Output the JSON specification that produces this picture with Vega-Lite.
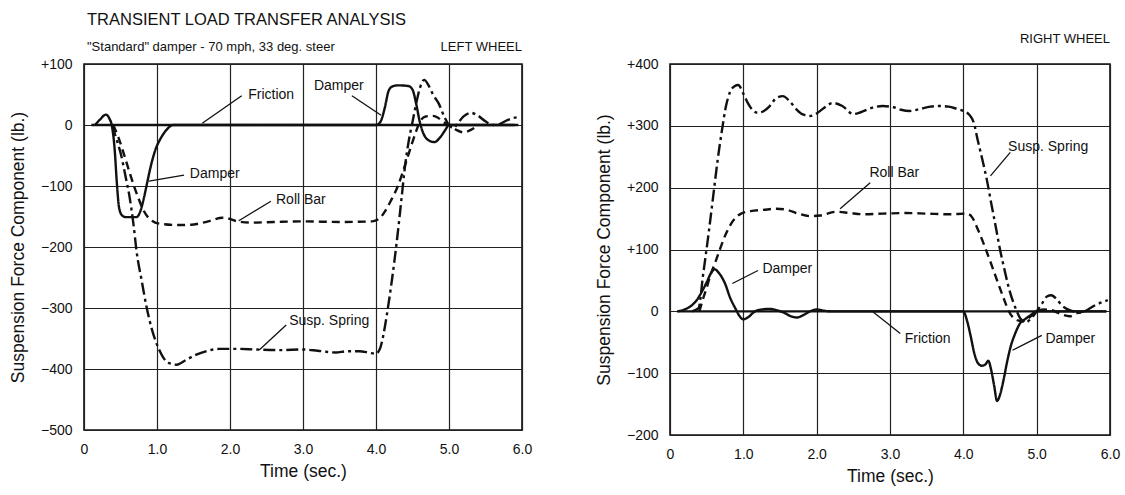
{
  "$schema": "https://vega.github.io/schema/vega-lite/v6.json",
  "background": "white",
  "padding": {"left": 8, "top": 11, "right": 8, "bottom": 2},
  "spacing": 61,
  "config": {
    "font": "Liberation Sans",
    "view": {"stroke": "#111", "strokeWidth": 1.6},
    "axis": {"grid": true, "gridColor": "#222", "gridWidth": 1.2, "gridOpacity": 1, "domain": false, "ticks": false, "labelFontSize": 14, "labelColor": "#111", "titleFontSize": 17.5, "titleFontWeight": "normal", "titleColor": "#111", "labelFlush": false, "labelOverlap": false},
    "axisX": {"labelPadding": 12, "titlePadding": 6},
    "axisY": {"labelPadding": 12, "titlePadding": 13},
    "text": {"font": "Liberation Sans", "color": "#111"}
  },
  "datasets": {
    "leftLines": [
      {"s": "Friction", "t": 0.1, "v": 0}, {"s": "Friction", "t": 5.95, "v": 0},
      {"s": "Damper", "t": 0.15, "v": 0}, {"s": "Damper", "t": 0.22, "v": 9}, {"s": "Damper", "t": 0.3, "v": 17}, {"s": "Damper", "t": 0.35, "v": 10}, {"s": "Damper", "t": 0.38, "v": 0},
      {"s": "Damper", "t": 0.42, "v": -40}, {"s": "Damper", "t": 0.45, "v": -95}, {"s": "Damper", "t": 0.48, "v": -135}, {"s": "Damper", "t": 0.52, "v": -148}, {"s": "Damper", "t": 0.57, "v": -151},
      {"s": "Damper", "t": 0.72, "v": -151}, {"s": "Damper", "t": 0.77, "v": -142}, {"s": "Damper", "t": 0.82, "v": -120}, {"s": "Damper", "t": 0.87, "v": -92}, {"s": "Damper", "t": 0.92, "v": -65},
      {"s": "Damper", "t": 0.98, "v": -40}, {"s": "Damper", "t": 1.05, "v": -22}, {"s": "Damper", "t": 1.13, "v": -8}, {"s": "Damper", "t": 1.22, "v": 0}, {"s": "Damper", "t": 4.0, "v": 0},
      {"s": "Damper", "t": 4.06, "v": 5}, {"s": "Damper", "t": 4.12, "v": 28}, {"s": "Damper", "t": 4.17, "v": 55}, {"s": "Damper", "t": 4.22, "v": 63}, {"s": "Damper", "t": 4.3, "v": 65},
      {"s": "Damper", "t": 4.44, "v": 64}, {"s": "Damper", "t": 4.5, "v": 58}, {"s": "Damper", "t": 4.55, "v": 35}, {"s": "Damper", "t": 4.6, "v": 5}, {"s": "Damper", "t": 4.65, "v": -14},
      {"s": "Damper", "t": 4.72, "v": -25}, {"s": "Damper", "t": 4.8, "v": -28}, {"s": "Damper", "t": 4.88, "v": -20}, {"s": "Damper", "t": 4.95, "v": -8}, {"s": "Damper", "t": 5.0, "v": 0}, {"s": "Damper", "t": 5.9, "v": 0},
      {"s": "Roll Bar", "t": 0.4, "v": 0}, {"s": "Roll Bar", "t": 0.47, "v": -20}, {"s": "Roll Bar", "t": 0.55, "v": -49}, {"s": "Roll Bar", "t": 0.63, "v": -80}, {"s": "Roll Bar", "t": 0.73, "v": -115},
      {"s": "Roll Bar", "t": 0.82, "v": -141}, {"s": "Roll Bar", "t": 0.93, "v": -157}, {"s": "Roll Bar", "t": 1.05, "v": -162}, {"s": "Roll Bar", "t": 1.3, "v": -164}, {"s": "Roll Bar", "t": 1.5, "v": -163},
      {"s": "Roll Bar", "t": 1.7, "v": -158}, {"s": "Roll Bar", "t": 1.9, "v": -152}, {"s": "Roll Bar", "t": 2.0, "v": -154}, {"s": "Roll Bar", "t": 2.1, "v": -158}, {"s": "Roll Bar", "t": 2.3, "v": -160},
      {"s": "Roll Bar", "t": 2.6, "v": -159}, {"s": "Roll Bar", "t": 3.0, "v": -158}, {"s": "Roll Bar", "t": 3.5, "v": -159}, {"s": "Roll Bar", "t": 3.95, "v": -158}, {"s": "Roll Bar", "t": 4.05, "v": -153},
      {"s": "Roll Bar", "t": 4.12, "v": -142}, {"s": "Roll Bar", "t": 4.2, "v": -125}, {"s": "Roll Bar", "t": 4.3, "v": -100}, {"s": "Roll Bar", "t": 4.4, "v": -65}, {"s": "Roll Bar", "t": 4.48, "v": -35},
      {"s": "Roll Bar", "t": 4.55, "v": -10}, {"s": "Roll Bar", "t": 4.6, "v": 5}, {"s": "Roll Bar", "t": 4.68, "v": 14}, {"s": "Roll Bar", "t": 4.78, "v": 15}, {"s": "Roll Bar", "t": 4.85, "v": 12},
      {"s": "Roll Bar", "t": 4.92, "v": 5}, {"s": "Roll Bar", "t": 5.0, "v": 0}, {"s": "Roll Bar", "t": 5.1, "v": -8}, {"s": "Roll Bar", "t": 5.2, "v": -12}, {"s": "Roll Bar", "t": 5.3, "v": -8}, {"s": "Roll Bar", "t": 5.4, "v": 0},
      {"s": "Susp. Spring", "t": 0.38, "v": 0}, {"s": "Susp. Spring", "t": 0.45, "v": -25}, {"s": "Susp. Spring", "t": 0.51, "v": -50}, {"s": "Susp. Spring", "t": 0.57, "v": -85}, {"s": "Susp. Spring", "t": 0.62, "v": -115},
      {"s": "Susp. Spring", "t": 0.68, "v": -165}, {"s": "Susp. Spring", "t": 0.72, "v": -207}, {"s": "Susp. Spring", "t": 0.79, "v": -255}, {"s": "Susp. Spring", "t": 0.86, "v": -300}, {"s": "Susp. Spring", "t": 0.93, "v": -335},
      {"s": "Susp. Spring", "t": 1.0, "v": -360}, {"s": "Susp. Spring", "t": 1.08, "v": -380}, {"s": "Susp. Spring", "t": 1.16, "v": -390}, {"s": "Susp. Spring", "t": 1.27, "v": -393}, {"s": "Susp. Spring", "t": 1.4, "v": -385},
      {"s": "Susp. Spring", "t": 1.53, "v": -377}, {"s": "Susp. Spring", "t": 1.7, "v": -370}, {"s": "Susp. Spring", "t": 1.85, "v": -367}, {"s": "Susp. Spring", "t": 2.1, "v": -367}, {"s": "Susp. Spring", "t": 2.35, "v": -368},
      {"s": "Susp. Spring", "t": 2.7, "v": -369}, {"s": "Susp. Spring", "t": 3.0, "v": -368}, {"s": "Susp. Spring", "t": 3.2, "v": -370}, {"s": "Susp. Spring", "t": 3.45, "v": -373}, {"s": "Susp. Spring", "t": 3.6, "v": -371},
      {"s": "Susp. Spring", "t": 3.77, "v": -371}, {"s": "Susp. Spring", "t": 3.9, "v": -373}, {"s": "Susp. Spring", "t": 4.0, "v": -375}, {"s": "Susp. Spring", "t": 4.06, "v": -365}, {"s": "Susp. Spring", "t": 4.1, "v": -345},
      {"s": "Susp. Spring", "t": 4.15, "v": -310}, {"s": "Susp. Spring", "t": 4.2, "v": -270}, {"s": "Susp. Spring", "t": 4.25, "v": -225}, {"s": "Susp. Spring", "t": 4.3, "v": -175}, {"s": "Susp. Spring", "t": 4.35, "v": -120},
      {"s": "Susp. Spring", "t": 4.4, "v": -65}, {"s": "Susp. Spring", "t": 4.45, "v": -25}, {"s": "Susp. Spring", "t": 4.5, "v": 5}, {"s": "Susp. Spring", "t": 4.55, "v": 35}, {"s": "Susp. Spring", "t": 4.6, "v": 60},
      {"s": "Susp. Spring", "t": 4.66, "v": 74}, {"s": "Susp. Spring", "t": 4.72, "v": 65}, {"s": "Susp. Spring", "t": 4.78, "v": 50}, {"s": "Susp. Spring", "t": 4.86, "v": 35}, {"s": "Susp. Spring", "t": 4.93, "v": 15},
      {"s": "Susp. Spring", "t": 5.0, "v": 0}, {"s": "Susp. Spring", "t": 5.06, "v": -5}, {"s": "Susp. Spring", "t": 5.12, "v": 3}, {"s": "Susp. Spring", "t": 5.2, "v": 14}, {"s": "Susp. Spring", "t": 5.3, "v": 20},
      {"s": "Susp. Spring", "t": 5.4, "v": 15}, {"s": "Susp. Spring", "t": 5.5, "v": 6}, {"s": "Susp. Spring", "t": 5.6, "v": 0}, {"s": "Susp. Spring", "t": 5.7, "v": 2}, {"s": "Susp. Spring", "t": 5.8, "v": 8},
      {"s": "Susp. Spring", "t": 5.9, "v": 12}, {"s": "Susp. Spring", "t": 5.98, "v": 13}
    ],
    "leftLabels": [
      {"label": "Friction", "t": 2.25, "v": 49},
      {"label": "Damper", "t": 3.15, "v": 64},
      {"label": "Damper", "t": 1.45, "v": -80},
      {"label": "Roll Bar", "t": 2.63, "v": -123},
      {"label": "Susp. Spring", "t": 2.81, "v": -321}
    ],
    "leftLeaders": [
      {"t": 2.16, "v": 48, "t2": 1.62, "v2": 3},
      {"t": 3.67, "v": 48, "t2": 4.07, "v2": 16},
      {"t": 1.37, "v": -82, "t2": 0.89, "v2": -92},
      {"t": 2.56, "v": -125, "t2": 2.12, "v2": -157},
      {"t": 2.77, "v": -328, "t2": 2.4, "v2": -369}
    ],
    "leftWheel": [{"label": "LEFT WHEEL", "t": 6.0, "v": 128}],
    "rightLines": [
      {"s": "Friction", "t": 0.1, "v": 0}, {"s": "Friction", "t": 5.95, "v": 0},
      {"s": "Damper", "t": 0.1, "v": 0}, {"s": "Damper", "t": 0.2, "v": 3}, {"s": "Damper", "t": 0.3, "v": 10}, {"s": "Damper", "t": 0.37, "v": 19}, {"s": "Damper", "t": 0.44, "v": 33},
      {"s": "Damper", "t": 0.5, "v": 47}, {"s": "Damper", "t": 0.56, "v": 62}, {"s": "Damper", "t": 0.61, "v": 68}, {"s": "Damper", "t": 0.66, "v": 63}, {"s": "Damper", "t": 0.75, "v": 45},
      {"s": "Damper", "t": 0.82, "v": 22}, {"s": "Damper", "t": 0.89, "v": 5}, {"s": "Damper", "t": 0.95, "v": -8}, {"s": "Damper", "t": 1.0, "v": -13}, {"s": "Damper", "t": 1.06, "v": -10},
      {"s": "Damper", "t": 1.16, "v": 0}, {"s": "Damper", "t": 1.25, "v": 3}, {"s": "Damper", "t": 1.35, "v": 4}, {"s": "Damper", "t": 1.45, "v": 2}, {"s": "Damper", "t": 1.55, "v": -2},
      {"s": "Damper", "t": 1.65, "v": -8}, {"s": "Damper", "t": 1.73, "v": -10}, {"s": "Damper", "t": 1.82, "v": -6}, {"s": "Damper", "t": 1.91, "v": 0}, {"s": "Damper", "t": 2.0, "v": 3},
      {"s": "Damper", "t": 2.1, "v": 1}, {"s": "Damper", "t": 2.2, "v": 0}, {"s": "Damper", "t": 4.0, "v": 0}, {"s": "Damper", "t": 4.05, "v": -15}, {"s": "Damper", "t": 4.1, "v": -40},
      {"s": "Damper", "t": 4.15, "v": -68}, {"s": "Damper", "t": 4.2, "v": -84}, {"s": "Damper", "t": 4.25, "v": -88}, {"s": "Damper", "t": 4.3, "v": -86}, {"s": "Damper", "t": 4.34, "v": -80},
      {"s": "Damper", "t": 4.38, "v": -95}, {"s": "Damper", "t": 4.42, "v": -120}, {"s": "Damper", "t": 4.46, "v": -145}, {"s": "Damper", "t": 4.5, "v": -135}, {"s": "Damper", "t": 4.55, "v": -110},
      {"s": "Damper", "t": 4.6, "v": -80}, {"s": "Damper", "t": 4.65, "v": -55}, {"s": "Damper", "t": 4.7, "v": -38}, {"s": "Damper", "t": 4.77, "v": -20}, {"s": "Damper", "t": 4.85, "v": -12},
      {"s": "Damper", "t": 4.92, "v": -6}, {"s": "Damper", "t": 5.0, "v": 0}, {"s": "Damper", "t": 5.95, "v": 0},
      {"s": "Roll Bar", "t": 0.4, "v": 0}, {"s": "Roll Bar", "t": 0.45, "v": 20}, {"s": "Roll Bar", "t": 0.5, "v": 38}, {"s": "Roll Bar", "t": 0.55, "v": 58}, {"s": "Roll Bar", "t": 0.62, "v": 80},
      {"s": "Roll Bar", "t": 0.68, "v": 100}, {"s": "Roll Bar", "t": 0.75, "v": 122}, {"s": "Roll Bar", "t": 0.82, "v": 139}, {"s": "Roll Bar", "t": 0.9, "v": 152}, {"s": "Roll Bar", "t": 0.97, "v": 158},
      {"s": "Roll Bar", "t": 1.1, "v": 162}, {"s": "Roll Bar", "t": 1.27, "v": 164}, {"s": "Roll Bar", "t": 1.45, "v": 166}, {"s": "Roll Bar", "t": 1.6, "v": 164}, {"s": "Roll Bar", "t": 1.75, "v": 158},
      {"s": "Roll Bar", "t": 1.91, "v": 154}, {"s": "Roll Bar", "t": 2.05, "v": 155}, {"s": "Roll Bar", "t": 2.27, "v": 161}, {"s": "Roll Bar", "t": 2.45, "v": 159}, {"s": "Roll Bar", "t": 2.63, "v": 157},
      {"s": "Roll Bar", "t": 2.9, "v": 158}, {"s": "Roll Bar", "t": 3.2, "v": 159}, {"s": "Roll Bar", "t": 3.5, "v": 158}, {"s": "Roll Bar", "t": 3.8, "v": 157}, {"s": "Roll Bar", "t": 4.05, "v": 158},
      {"s": "Roll Bar", "t": 4.12, "v": 152}, {"s": "Roll Bar", "t": 4.2, "v": 132}, {"s": "Roll Bar", "t": 4.32, "v": 96}, {"s": "Roll Bar", "t": 4.4, "v": 70}, {"s": "Roll Bar", "t": 4.5, "v": 37},
      {"s": "Roll Bar", "t": 4.56, "v": 18}, {"s": "Roll Bar", "t": 4.62, "v": 0}, {"s": "Roll Bar", "t": 4.7, "v": -12}, {"s": "Roll Bar", "t": 4.8, "v": -16}, {"s": "Roll Bar", "t": 4.9, "v": -10},
      {"s": "Roll Bar", "t": 5.0, "v": 0}, {"s": "Roll Bar", "t": 5.1, "v": 3}, {"s": "Roll Bar", "t": 5.2, "v": 2}, {"s": "Roll Bar", "t": 5.3, "v": -3}, {"s": "Roll Bar", "t": 5.45, "v": -8},
      {"s": "Roll Bar", "t": 5.55, "v": -3}, {"s": "Roll Bar", "t": 5.65, "v": 0},
      {"s": "Susp. Spring", "t": 0.3, "v": 0}, {"s": "Susp. Spring", "t": 0.39, "v": 5}, {"s": "Susp. Spring", "t": 0.45, "v": 58}, {"s": "Susp. Spring", "t": 0.52, "v": 120}, {"s": "Susp. Spring", "t": 0.59, "v": 187},
      {"s": "Susp. Spring", "t": 0.65, "v": 245}, {"s": "Susp. Spring", "t": 0.71, "v": 294}, {"s": "Susp. Spring", "t": 0.76, "v": 330}, {"s": "Susp. Spring", "t": 0.82, "v": 355}, {"s": "Susp. Spring", "t": 0.88, "v": 364},
      {"s": "Susp. Spring", "t": 0.93, "v": 366}, {"s": "Susp. Spring", "t": 1.0, "v": 352}, {"s": "Susp. Spring", "t": 1.06, "v": 337}, {"s": "Susp. Spring", "t": 1.13, "v": 325}, {"s": "Susp. Spring", "t": 1.2, "v": 321},
      {"s": "Susp. Spring", "t": 1.28, "v": 324}, {"s": "Susp. Spring", "t": 1.36, "v": 332}, {"s": "Susp. Spring", "t": 1.45, "v": 345}, {"s": "Susp. Spring", "t": 1.54, "v": 348}, {"s": "Susp. Spring", "t": 1.63, "v": 340},
      {"s": "Susp. Spring", "t": 1.73, "v": 326}, {"s": "Susp. Spring", "t": 1.82, "v": 318}, {"s": "Susp. Spring", "t": 1.91, "v": 316}, {"s": "Susp. Spring", "t": 2.0, "v": 320}, {"s": "Susp. Spring", "t": 2.09, "v": 328},
      {"s": "Susp. Spring", "t": 2.22, "v": 337}, {"s": "Susp. Spring", "t": 2.35, "v": 332}, {"s": "Susp. Spring", "t": 2.5, "v": 319}, {"s": "Susp. Spring", "t": 2.6, "v": 322}, {"s": "Susp. Spring", "t": 2.75, "v": 329},
      {"s": "Susp. Spring", "t": 2.9, "v": 332}, {"s": "Susp. Spring", "t": 3.05, "v": 330}, {"s": "Susp. Spring", "t": 3.15, "v": 326}, {"s": "Susp. Spring", "t": 3.27, "v": 324}, {"s": "Susp. Spring", "t": 3.4, "v": 327},
      {"s": "Susp. Spring", "t": 3.55, "v": 331}, {"s": "Susp. Spring", "t": 3.68, "v": 332}, {"s": "Susp. Spring", "t": 3.8, "v": 331}, {"s": "Susp. Spring", "t": 3.9, "v": 328}, {"s": "Susp. Spring", "t": 4.0, "v": 324},
      {"s": "Susp. Spring", "t": 4.08, "v": 318}, {"s": "Susp. Spring", "t": 4.14, "v": 306}, {"s": "Susp. Spring", "t": 4.2, "v": 275}, {"s": "Susp. Spring", "t": 4.26, "v": 245}, {"s": "Susp. Spring", "t": 4.32, "v": 213},
      {"s": "Susp. Spring", "t": 4.38, "v": 175}, {"s": "Susp. Spring", "t": 4.44, "v": 138}, {"s": "Susp. Spring", "t": 4.5, "v": 100}, {"s": "Susp. Spring", "t": 4.56, "v": 68}, {"s": "Susp. Spring", "t": 4.62, "v": 38},
      {"s": "Susp. Spring", "t": 4.68, "v": 15}, {"s": "Susp. Spring", "t": 4.73, "v": 0}, {"s": "Susp. Spring", "t": 4.78, "v": -12}, {"s": "Susp. Spring", "t": 4.85, "v": -18}, {"s": "Susp. Spring", "t": 4.92, "v": -12},
      {"s": "Susp. Spring", "t": 5.0, "v": 0}, {"s": "Susp. Spring", "t": 5.07, "v": 12}, {"s": "Susp. Spring", "t": 5.14, "v": 24}, {"s": "Susp. Spring", "t": 5.2, "v": 26}, {"s": "Susp. Spring", "t": 5.27, "v": 20},
      {"s": "Susp. Spring", "t": 5.34, "v": 10}, {"s": "Susp. Spring", "t": 5.41, "v": 4}, {"s": "Susp. Spring", "t": 5.5, "v": 0}, {"s": "Susp. Spring", "t": 5.6, "v": -2}, {"s": "Susp. Spring", "t": 5.7, "v": 3},
      {"s": "Susp. Spring", "t": 5.8, "v": 10}, {"s": "Susp. Spring", "t": 5.9, "v": 15}, {"s": "Susp. Spring", "t": 5.97, "v": 18}
    ],
    "rightLabels": [
      {"label": "Roll Bar", "t": 2.72, "v": 224},
      {"label": "Susp. Spring", "t": 4.61, "v": 265},
      {"label": "Damper", "t": 1.26, "v": 69},
      {"label": "Friction", "t": 3.2, "v": -44},
      {"label": "Damper", "t": 5.12, "v": -44}
    ],
    "rightLeaders": [
      {"t": 2.73, "v": 208, "t2": 2.32, "v2": 166},
      {"t": 4.64, "v": 257, "t2": 4.37, "v2": 219},
      {"t": 1.2, "v": 66, "t2": 0.85, "v2": 45},
      {"t": 3.14, "v": -36, "t2": 2.77, "v2": -1},
      {"t": 5.07, "v": -39, "t2": 4.67, "v2": -63}
    ],
    "rightWheel": [{"label": "RIGHT WHEEL", "t": 6.0, "v": 440}]
  },
  "hconcat": [
    {
      "width": 438,
      "height": 366,
      "title": {"text": "TRANSIENT LOAD TRANSFER ANALYSIS", "subtitle": "\"Standard\" damper - 70 mph, 33 deg. steer", "anchor": "start", "frame": "group", "dx": 3, "fontSize": 16.5, "fontWeight": "normal", "font": "Liberation Sans", "color": "#111", "subtitleFontSize": 13, "subtitleFont": "Liberation Sans", "subtitleColor": "#111", "subtitlePadding": 12, "offset": -13},
      "encoding": {
        "x": {"field": "t", "type": "quantitative", "scale": {"domain": [0, 6], "nice": false}, "axis": {"title": "Time (sec.)", "values": [0, 1, 2, 3, 4, 5, 6], "labelExpr": "datum.value == 0 ? '0' : format(datum.value, '.1f')"}},
        "y": {"field": "v", "type": "quantitative", "scale": {"domain": [-500, 100], "nice": false}, "axis": {"title": "Suspension Force Component (lb.)", "values": [-500, -400, -300, -200, -100, 0, 100], "labelExpr": "datum.value > 0 ? '+' + datum.value : (datum.value < 0 ? '\u2212' + abs(datum.value) : '0')"}}
      },
      "layer": [
        {
          "data": {"name": "leftLines"},
          "mark": {"type": "line", "color": "#111", "strokeWidth": 2.4, "interpolate": "monotone", "strokeCap": "butt"},
          "encoding": {
            "strokeDash": {"field": "s", "type": "nominal", "scale": {"domain": ["Friction", "Damper", "Roll Bar", "Susp. Spring"], "range": [[1, 0], [1, 0], [8, 5], [12, 4, 3, 4]]}, "legend": null}
          }
        },
        {
          "data": {"name": "leftLeaders"},
          "mark": {"type": "rule", "color": "#111", "strokeWidth": 1.3},
          "encoding": {"x2": {"field": "t2"}, "y2": {"field": "v2"}}
        },
        {
          "data": {"name": "leftLabels"},
          "mark": {"type": "text", "align": "left", "baseline": "middle", "fontSize": 14},
          "encoding": {"text": {"field": "label"}}
        },
        {
          "data": {"name": "leftWheel"},
          "mark": {"type": "text", "align": "right", "baseline": "middle", "fontSize": 13},
          "encoding": {"text": {"field": "label"}}
        }
      ]
    },
    {
      "width": 440,
      "height": 371,
      "encoding": {
        "x": {"field": "t", "type": "quantitative", "scale": {"domain": [0, 6], "nice": false}, "axis": {"title": "Time (sec.)", "values": [0, 1, 2, 3, 4, 5, 6], "labelExpr": "datum.value == 0 ? '0' : format(datum.value, '.1f')"}},
        "y": {"field": "v", "type": "quantitative", "scale": {"domain": [-200, 400], "nice": false}, "axis": {"title": "Suspension Force Component (lb.)", "values": [-200, -100, 0, 100, 200, 300, 400], "labelExpr": "datum.value > 0 ? '+' + datum.value : (datum.value < 0 ? '\u2212' + abs(datum.value) : '0')"}}
      },
      "layer": [
        {
          "data": {"name": "rightLines"},
          "mark": {"type": "line", "color": "#111", "strokeWidth": 2.4, "interpolate": "monotone", "strokeCap": "butt"},
          "encoding": {
            "strokeDash": {"field": "s", "type": "nominal", "scale": {"domain": ["Friction", "Damper", "Roll Bar", "Susp. Spring"], "range": [[1, 0], [1, 0], [8, 5], [12, 4, 3, 4]]}, "legend": null}
          }
        },
        {
          "data": {"name": "rightLeaders"},
          "mark": {"type": "rule", "color": "#111", "strokeWidth": 1.3},
          "encoding": {"x2": {"field": "t2"}, "y2": {"field": "v2"}}
        },
        {
          "data": {"name": "rightLabels"},
          "mark": {"type": "text", "align": "left", "baseline": "middle", "fontSize": 14},
          "encoding": {"text": {"field": "label"}}
        },
        {
          "data": {"name": "rightWheel"},
          "mark": {"type": "text", "align": "right", "baseline": "middle", "fontSize": 13},
          "encoding": {"text": {"field": "label"}}
        }
      ]
    }
  ]
}
